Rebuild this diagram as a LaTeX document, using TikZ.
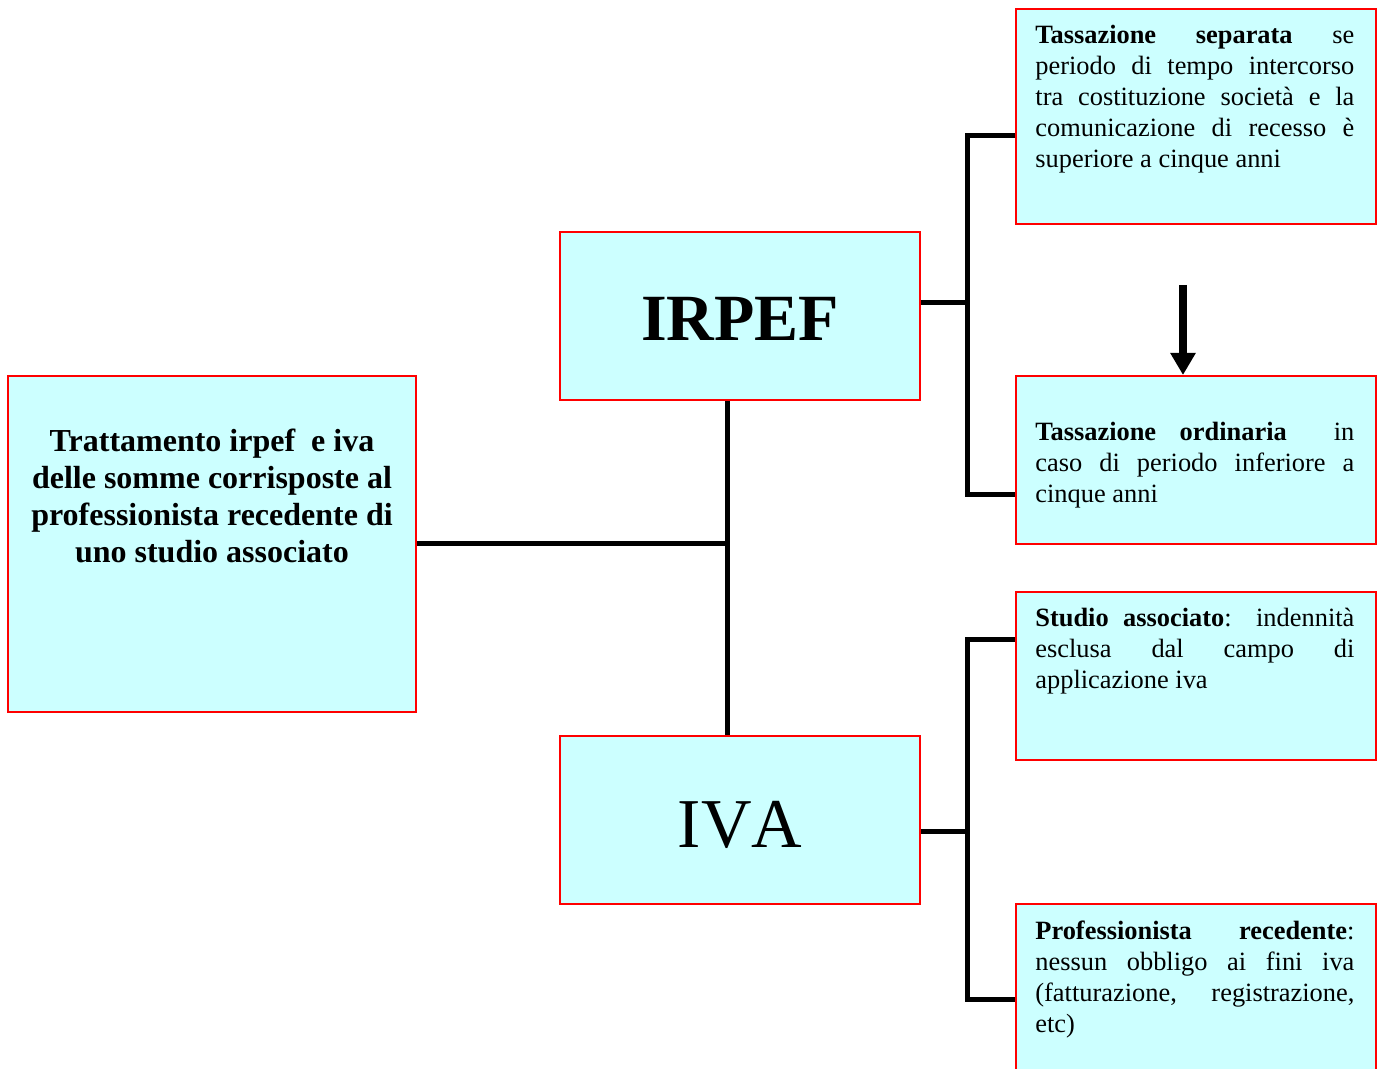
\documentclass[tikz,border=0pt]{standalone}
\usepackage{fontspec}
\setmainfont{Liberation Serif}
\usetikzlibrary{arrows.meta, positioning, calc}
\definecolor{boxfill}{RGB}{204,255,255}
\definecolor{boxdraw}{RGB}{255,0,0}

\begin{document}
\begin{tikzpicture}[
    x=0.5pt, y=-0.5pt,
    box/.style={
        rectangle,
        draw=boxdraw,
        fill=boxfill,
        line width=1pt,
        inner sep=0pt
    },
    sidebox/.style={
        box,
        minimum width=180pt,
        minimum height=84pt
    },
    body/.style={
        text width=159.5pt,
        align=justify,
        inner sep=0pt,
        anchor=base west,
        font=\fontsize{13.2}{15.5}\selectfont
    },
    title/.style={
        font=\fontsize{33}{36}\selectfont
    },
    line/.style={
        draw,
        line width=2.5pt
    },
    arrowline/.style={
        draw,
        line width=4pt,
        -{Triangle[width=12pt,length=11pt]}
    }
]
\useasboundingbox (0,0) rectangle (1377,1069);

% Nodes
\node [box, minimum width=204pt, minimum height=168pt] (trat) at (212,544) {};
\node [font=\fontsize{16}{18.5}\selectfont\bfseries, align=center, anchor=base, inner sep=0pt]
    (tratlabel) at ($(trat.north)+(0,188)$)
    {Trattamento irpef~ e iva\\ delle somme corrisposte al\\ professionista recedente di\\ uno studio associato};

\node [sidebox, title] (irpef) at (740,316) {};
\node [title, yshift=-1.5pt] (irpeflabel) at (irpef.center) {\bfseries IRPEF};
\node [sidebox] (iva) at (740,820) {};
\node [font=\fontsize{35}{38}\selectfont\addfontfeatures{Kerning=Off}, yshift=-2.5pt]
    (ivalabel) at (iva.center) {IVA};

% Right column
\node [box, minimum width=180pt, minimum height=107.5pt] (sep) at (1196,116.5) {};
\node [body] (seplabel) at ($(sep.north west)+(20,36)$)
    {\textbf{Tassazione separata} se\linebreak periodo di tempo intercorso\linebreak tra costituzione società e la\linebreak comunicazione di recesso è\linebreak superiore a cinque anni};

\node [sidebox] (ord) at (1196,460) {};
\node [body] (ordlabel) at ($(ord.north west)+(20,66)$)
    {\textbf{Tassazione ordinaria}\ \ in\linebreak caso di periodo inferiore a\linebreak cinque anni};

\node [sidebox] (stu) at (1196,676) {};
\node [body] (stulabel) at ($(stu.north west)+(20,35)$)
    {\textbf{Studio associato}: indennità\linebreak esclusa dal campo di\linebreak applicazione iva};

\node [sidebox] (prof) at (1196,988) {};
\node [body] (proflabel) at ($(prof.north west)+(20,36)$)
    {\textbf{Professionista recedente}:\linebreak nessun obbligo ai fini iva\linebreak (fatturazione, registrazione,\linebreak etc)};

% Connections
\coordinate (jm) at (727,544);
\path [line] (trat.east) -- (jm);
\path [line] (irpef.south -| jm) -- (iva.north -| jm);

% IRPEF branch
\coordinate (ja) at (967,303);
\coordinate (jat) at (967,136);
\coordinate (jab) at (967,495);
\path [line] (irpef.east |- ja) -- (ja);
\path [line] (sep.west |- jat) -- (jat) -- (jab) -- (ord.west |- jab);

% IVA branch
\coordinate (jb) at (967,831);
\coordinate (jbt) at (967,639);
\coordinate (jbb) at (967,999);
\path [line] (iva.east |- jb) -- (jb);
\path [line] (stu.west |- jbt) -- (jbt) -- (jbb) -- (prof.west |- jbb);

% separata -> ordinaria
\coordinate (arr) at (1183,285);
\path [arrowline] (arr) -- (arr |- ord.north);

\end{tikzpicture}
\end{document}
